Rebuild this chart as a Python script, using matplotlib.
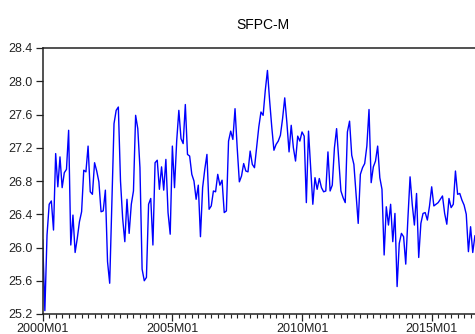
import numpy as np
import matplotlib
matplotlib.use("Agg")
import matplotlib.pyplot as plt

plt.rcParams['font.family'] = ['Liberation Sans', 'DejaVu Sans']

# monthly series, 2000M01 onwards
sfpc_m = [
    26.09, 25.24, 26.15, 26.52, 26.56, 26.21, 27.13, 26.73, 27.09, 26.72, 26.90, 26.94,
    27.41, 26.03, 26.39, 25.94, 26.11, 26.31, 26.43, 26.93, 26.91, 27.22, 26.67, 26.64,
    27.02, 26.92, 26.79, 26.43, 26.44, 26.69, 25.83, 25.57, 26.55, 27.49, 27.65, 27.69,
    26.80, 26.35, 26.07, 26.58, 26.17, 26.52, 26.68, 27.59, 27.43, 26.96, 25.74, 25.60,
    25.64, 26.52, 26.59, 26.03, 27.02, 27.05, 26.70, 26.97, 26.69, 27.06, 26.42, 26.16,
    27.22, 26.72, 27.28, 27.65, 27.31, 27.25, 27.72, 27.12, 27.10, 26.88, 26.80, 26.58,
    26.75, 26.13, 26.72, 26.94, 27.12, 26.46, 26.50, 26.68, 26.67, 26.88, 26.75, 26.81,
    26.42, 26.44, 27.28, 27.40, 27.30, 27.67, 27.20, 26.79, 26.86, 27.01, 26.92, 26.91,
    27.16, 27.00, 26.96, 27.20, 27.45, 27.63, 27.59, 27.89, 28.13, 27.77, 27.45, 27.17,
    27.24, 27.28, 27.35, 27.55, 27.80, 27.50, 27.15, 27.47, 27.20, 27.04, 27.34, 27.28,
    27.39, 27.34, 26.54, 27.40, 26.95, 26.52, 26.84, 26.70, 26.83, 26.72, 26.67, 26.68,
    27.15, 26.68, 26.75, 27.20, 27.43, 27.05, 26.68, 26.60, 26.54, 27.39, 27.52, 27.11,
    27.00, 26.65, 26.29, 26.88, 26.96, 27.01, 27.22, 27.66, 26.78, 26.97, 27.04, 27.22,
    26.84, 26.70, 25.91, 26.49, 26.27, 26.52, 26.07, 26.41, 25.53, 26.05, 26.17, 26.13,
    25.80, 26.35, 26.85, 26.52, 26.27, 26.65, 25.88, 26.29, 26.41, 26.42, 26.33, 26.50,
    26.73, 26.50, 26.52, 26.54, 26.58, 26.62, 26.41, 26.28, 26.59, 26.48, 26.52, 26.92,
    26.64, 26.65, 26.57, 26.51, 26.40, 25.95, 26.25, 25.94, 26.14,
]
x_labels = ['2000M01', '2005M01', '2010M01', '2015M01']
y_ticks = [25.2, 25.6, 26.0, 26.4, 26.8, 27.2, 27.6, 28.0, 28.4]

months = np.arange(len(sfpc_m))

fig = plt.figure(figsize=(4.75, 3.34), dpi=100)
# axes run past the right edge of the picture, like the cropped original
ax = fig.add_axes([42.7 / 475, 20 / 334, 204 * 2.161 / 475, 266 / 334])

ax.plot(months, sfpc_m, color='#0000ff', lw=1.0)

ax.set_xlim(0, 204)
ax.set_ylim(25.2, 28.4)
ax.set_yticks(y_ticks)
ax.set_yticklabels([f"{v:.1f}" for v in y_ticks])
ax.set_xticks([0, 60, 120, 180])
ax.set_xticklabels(x_labels)
ax.set_xticks(np.arange(0, 205, 3), minor=True)

for s in ['left', 'top', 'bottom']:
    ax.spines[s].set_linewidth(1.1)
    ax.spines[s].set_color('#222222')
ax.spines['right'].set_visible(False)

ax.tick_params(axis='y', direction='out', length=5, width=0.9, pad=2,
               labelsize=9, colors='#222222')
ax.tick_params(axis='x', which='major', direction='out', length=5, width=0.9,
               pad=1.5, labelsize=9, colors='#222222')
ax.tick_params(axis='x', which='minor', direction='out', length=3, width=0.8,
               colors='#222222')

ax.set_title('SFPC-M', fontsize=10, pad=14)

fig.savefig('out.png', dpi=100)
